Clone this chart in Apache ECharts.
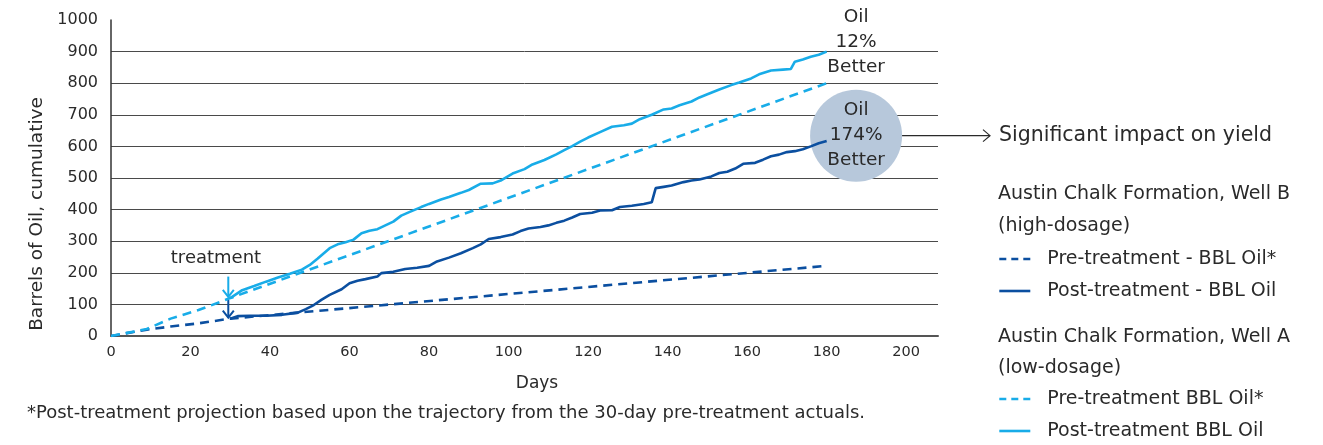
<!DOCTYPE html>
<html>
<head>
<meta charset="utf-8">
<script src="https://cdn.jsdelivr.net/npm/echarts@6/dist/echarts.min.js"></script>
<style>
  html, body { margin: 0; background: #fff; }
  #chart { width: 1323px; height: 445px; }
</style>
</head>
<body>
<div id="chart"></div>
<script>
// cumulative barrels of oil, [day, value]
var preWellB = [[0, 0], [9, 20], [15, 30], [22, 40], [30, 55], [180, 222]]
var postWellB = [[30, 55], [32, 63], [35, 64], [39, 64], [43, 67], [47, 74], [49, 85], [51, 98], [53, 115], [55, 130],
  [58, 148], [60, 167], [62, 175], [64, 180], [67, 188], [68, 199], [71, 203], [74, 212], [77, 216], [80, 222],
  [82, 236], [85, 248], [88, 262], [91, 278], [93, 290], [95, 307], [98, 313], [101, 321], [103, 332], [105, 340],
  [108, 345], [110, 350], [112, 358], [114, 365], [116, 375], [118, 386], [121, 390], [123, 397], [126, 398], [128, 408],
  [131, 412], [134, 418], [136, 423], [137, 468], [139, 472], [141, 476], [144, 487], [146, 492], [148, 495], [151, 505],
  [153, 516], [155, 520], [157, 530], [159, 545], [162, 548], [164, 558], [166, 569], [168, 574], [170, 582], [172, 585],
  [174, 591], [176, 600], [178, 610], [180, 617]]
var preWellA = [[0, 0], [9, 22], [15, 55], [22, 82], [30, 120], [180, 800]]
var postWellA = [[30, 120], [33, 145], [36, 158], [39, 172], [42, 185], [45, 197], [48, 210], [50, 225], [52, 245], [55, 278],
  [57, 290], [59, 297], [61, 305], [63, 325], [65, 333], [67, 338], [69, 350], [71, 362], [73, 381], [75, 392],
  [78, 408], [80, 418], [83, 432], [85, 440], [88, 453], [90, 462], [93, 482], [96, 483], [98, 492], [101, 514],
  [104, 528], [106, 543], [109, 557], [112, 575], [114, 588], [116, 601], [118, 615], [120, 628], [123, 645], [126, 662],
  [129, 667], [131, 672], [133, 686], [136, 700], [139, 717], [141, 720], [143, 730], [146, 742], [148, 755], [150, 765],
  [153, 780], [156, 794], [158, 802], [161, 815], [163, 828], [166, 840], [169, 843], [171, 845], [172, 868], [174, 875],
  [176, 884], [178, 890], [180, 900]]

var seriesNames = ['Pre-treatment - BBL Oil*', 'Post-treatment - BBL Oil', 'Pre-treatment BBL Oil*', 'Post-treatment BBL Oil']
var legendTitles = ['Austin Chalk Formation, Well B', '(high-dosage)', 'Austin Chalk Formation, Well A', '(low-dosage)']
var gainA = 'Oil\n12%\nBetter'
var gainB = 'Oil\n174%\nBetter'
var treatmentDay = 29.5

var DARK = '#0b4fa0'
var LIGHT = '#18ace8'
var TEXT = '#2a2a2a'
var FONT = "'DejaVu Sans', sans-serif"
var W = 'normal'

var chart = echarts.init(document.getElementById('chart'))

function lineSeries(name, data, color, dashed) {
  return {
    name: name,
    type: 'line',
    data: data,
    symbol: 'none',
    showSymbol: false,
    z: 3,
    lineStyle: { color: color, width: 2.6, type: dashed ? [9, 6] : 'solid' },
    itemStyle: { color: color }
  }
}

function legendItem(name, dashed) {
  return { name: name, itemStyle: { opacity: 0 }, lineStyle: { type: dashed ? [7, 5] : 'solid', width: 2.6 } }
}

var legendText = { fontFamily: FONT, fontWeight: W, fontSize: 19, color: TEXT, lineHeight: 20, padding: [0, 0, 0, 12] }

function calloutLabel(text) {
  return {
    show: true, position: 'inside', formatter: text,
    fontFamily: FONT, fontSize: 18.5, fontWeight: W, lineHeight: 25,
    color: TEXT, textBorderWidth: 0, textBorderColor: 'transparent'
  }
}

chart.setOption({
  animation: false,
  textStyle: { fontFamily: FONT, fontWeight: W },
  grid: { left: 111, right: 385, top: 20, bottom: 109 },
  legend: [{
    orient: 'vertical', left: 998, top: 249, padding: 0,
    itemWidth: 31, itemHeight: 20, itemGap: 12,
    data: [legendItem(seriesNames[0], true), legendItem(seriesNames[1], false)],
    textStyle: legendText
  }, {
    orient: 'vertical', left: 998, top: 389, padding: 0,
    itemWidth: 31, itemHeight: 20, itemGap: 12,
    data: [legendItem(seriesNames[2], true), legendItem(seriesNames[3], false)],
    textStyle: legendText
  }],
  xAxis: {
    type: 'value', min: 0, max: 208, interval: 20,
    name: 'Days', nameLocation: 'middle', nameGap: 39,
    nameTextStyle: { fontFamily: FONT, fontWeight: W, fontSize: 17, color: TEXT, padding: [0, 0, 0, 25] },
    axisLine: { show: true, lineStyle: { color: '#555', width: 2 } },
    axisTick: { show: false },
    axisLabel: {
      margin: 9, fontSize: 14.5, fontWeight: W, color: TEXT,
      formatter: function (v) { return v % 20 === 0 ? String(v) : '' }
    },
    splitLine: { show: false }
  },
  yAxis: {
    type: 'value', min: 0, max: 1000, interval: 100,
    name: 'Barrels of Oil, cumulative', nameLocation: 'middle', nameGap: 62, nameRotate: 90,
    nameTextStyle: { fontFamily: FONT, fontWeight: W, fontSize: 18.5, color: TEXT, padding: [0, 72, 0, 0] },
    axisLine: { show: true, lineStyle: { color: '#333', width: 1.5 } },
    axisTick: { show: false },
    axisLabel: {
      margin: 13, fontSize: 16, fontWeight: W, color: TEXT,
      formatter: function (v) { return String(v) }
    },
    splitLine: { show: true, showMinLine: false, showMaxLine: false, lineStyle: { color: '#4a4a4a', width: 1 } }
  },
  series: [
    {
      type: 'scatter', z: 1, silent: true,
      data: [[187.4, 634]],
      symbolSize: 92,
      itemStyle: { color: '#b7c8db', opacity: 1 },
      label: calloutLabel(gainB)
    },
    {
      type: 'scatter', z: 1, silent: true,
      data: [[187.4, 929]],
      symbolSize: 1,
      itemStyle: { color: '#fff', opacity: 1 },
      label: calloutLabel(gainA)
    },
    lineSeries(seriesNames[0], preWellB, DARK, true),
    lineSeries(seriesNames[1], postWellB, DARK, false),
    lineSeries(seriesNames[2], preWellA, LIGHT, true),
    lineSeries(seriesNames[3], postWellA, LIGHT, false)
  ]
})

// arrows and loose texts, placed from data coordinates
function px(p) { return chart.convertToPixel({ gridIndex: 0 }, p) }

function downArrow(top, bottom, color) {
  var a = px(top), b = px(bottom)
  return [{
    type: 'polyline', silent: true,
    shape: { points: [a, b] },
    style: { stroke: color, lineWidth: 2, fill: null }
  }, {
    type: 'polyline', silent: true,
    shape: { points: [[b[0] - 5.5, b[1] - 7], b, [b[0] + 5.5, b[1] - 7]] },
    style: { stroke: color, lineWidth: 2, fill: null }
  }]
}

var circleEdge = px([199, 634])
var tLabel = px([26.4, 247])
var textBase = { fontFamily: FONT, fontWeight: W, fontSize: 19, fill: TEXT }

function txt(s, x, y, extra) {
  return { type: 'text', silent: true, x: x, y: y,
    style: Object.assign({ text: s, verticalAlign: 'middle' }, textBase, extra || {}) }
}

var graphics = []
  .concat(downArrow([treatmentDay, 188], [treatmentDay, 124], LIGHT))
  .concat(downArrow([treatmentDay, 114], [treatmentDay, 58], DARK))
  .concat([
    txt('treatment', tLabel[0], tLabel[1], { align: 'center', fontSize: 18 }),
    { type: 'polyline', silent: true,
      shape: { points: [[circleEdge[0] - 1, circleEdge[1]], [990, circleEdge[1]]] },
      style: { stroke: TEXT, lineWidth: 1.2, fill: null } },
    { type: 'polyline', silent: true,
      shape: { points: [[983, circleEdge[1] - 6], [990, circleEdge[1]], [983, circleEdge[1] + 6]] },
      style: { stroke: TEXT, lineWidth: 1.2, fill: null } },
    txt('Significant impact on yield', 999, circleEdge[1], { fontSize: 20.5 }),
    txt(legendTitles[0], 998, 194),
    txt(legendTitles[1], 998, 226),
    txt(legendTitles[2], 998, 337),
    txt(legendTitles[3], 998, 368),
    txt('*Post-treatment projection based upon the trajectory from the 30-day pre-treatment actuals.', 27, 413, { fontSize: 18 })
  ])

chart.setOption({ graphic: graphics })
</script>
</body>
</html>
